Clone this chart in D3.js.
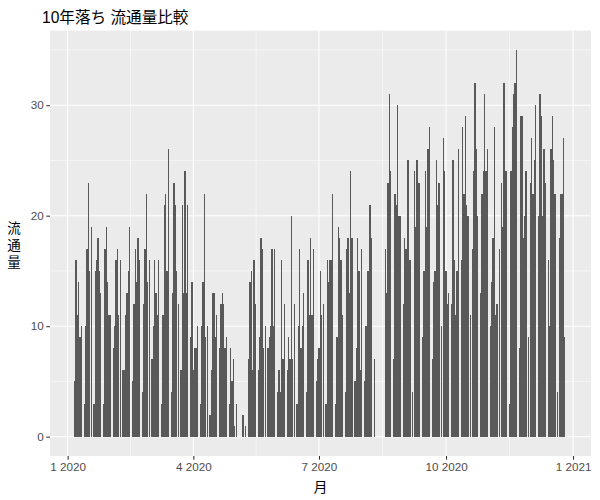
<!DOCTYPE html>
<html><head><meta charset="utf-8">
<script src="https://cdn.jsdelivr.net/npm/d3@7"></script>
<style>body{margin:0;background:#fff;} text{font-family:"Liberation Sans","Noto Sans CJK JP",sans-serif;}</style>
</head><body><div id="chart"></div>
<script>
const title = "10年落ち 流通量比較";
const xTitle = "月";
const yTitle = ["流", "通", "量"];
const startDate = "2020-01-01";
// daily values from 2020-01-01 (one per day)
const values = [
0,0,0,0,0,
5,16,11,14,9,10,0,
3,10,17,23,15,19,0,
3,15,16,18,15,13,0,
3,17,19,14,11,11,0,
8,10,16,17,11,16,0,
6,6,11,13,15,19,0,
5,12,17,14,18,16,0,
4,12,17,22,14,16,0,
7,10,16,13,11,16,0,
3,11,21,22,15,26,0,
4,13,23,21,15,12,0,
6,21,13,24,13,21,0,
9,14,6,8,8,10,0,
3,10,14,22,9,10,0,
2,6,13,13,9,11,0,
8,12,13,12,8,9,0,
3,8,5,7,1,3,0,
0,0,0,2,0,1,0,
7,14,15,6,16,12,0,
6,9,18,17,8,10,0,
8,9,10,17,10,17,0,
4,6,4,16,7,12,0,
6,9,7,20,7,12,0,
3,10,17,8,10,13,0,
4,16,11,18,11,17,0,
5,7,8,15,11,12,0,
3,16,14,16,16,22,0,
3,9,19,18,16,11,0,
4,17,18,13,24,18,0,
5,8,18,15,6,17,0,
5,10,15,15,21,18,0,
7,0,0,0,0,0,0,
0,17,13,23,31,24,0,
7,22,21,30,20,20,0,
12,18,17,25,25,16,0,
4,24,19,25,23,23,0,
9,15,24,19,26,28,0,
7,14,15,25,21,23,0,
10,27,24,15,12,13,0,
12,25,16,11,15,26,0,
16,28,22,29,21,20,0,
11,17,24,32,26,20,0,
13,22,24,31,24,26,0,
10,14,18,28,11,12,0,
17,23,19,32,24,24,0,
3,24,28,31,32,35,0,
8,29,29,18,20,24,0,
9,23,27,22,25,30,0,
20,31,29,20,26,23,0,
16,10,26,29,25,22,0,
4,18,22,22,27,9,0,
0,0,0,0
];
const xTickDates = ["2020-01-01","2020-04-01","2020-07-01","2020-10-01","2021-01-01"];
const yTicks = [0,10,20,30];

const W = 600, H = 500;
const parse = d3.utcParse("%Y-%m-%d");
const t0 = parse(startDate);
const data = values.map((v,i)=>({date: d3.utcDay.offset(t0,i), v}));
const DAY = 86400000;

const panel = {l:50, r:591, t:30.6, b:456};
const x = d3.scaleUtc()
  .domain([new Date(+t0 - 12.8*DAY), new Date(+t0 + 379*DAY)])
  .range([panel.l, panel.r]);
const y = d3.scaleLinear().domain([-1.75, 36.75]).range([panel.b, panel.t]);

const svg = d3.select("#chart").append("svg").attr("width",W).attr("height",H);
svg.append("rect").attr("width",W).attr("height",H).attr("fill","#fff");
svg.append("rect").attr("x",panel.l).attr("y",panel.t)
  .attr("width",panel.r-panel.l).attr("height",panel.b-panel.t).attr("fill","#EBEBEB");

const g = svg.append("g");
const majorX = xTickDates.map(parse);
const minorX = [];
for (let i=0;i<majorX.length-1;i++) minorX.push(new Date((+majorX[i] + +majorX[i+1])/2));
const minorY = [5,15,25,35];

g.selectAll(".mgx").data(minorX).join("line")
  .attr("x1",d=>x(d)).attr("x2",d=>x(d)).attr("y1",panel.t).attr("y2",panel.b)
  .attr("stroke","#fff").attr("stroke-width",0.53);
g.selectAll(".mgy").data(minorY).join("line")
  .attr("y1",d=>y(d)).attr("y2",d=>y(d)).attr("x1",panel.l).attr("x2",panel.r)
  .attr("stroke","#fff").attr("stroke-width",0.53);
g.selectAll(".Mgx").data(majorX).join("line")
  .attr("x1",d=>x(d)).attr("x2",d=>x(d)).attr("y1",panel.t).attr("y2",panel.b)
  .attr("stroke","#fff").attr("stroke-width",1.07);
g.selectAll(".Mgy").data(yTicks).join("line")
  .attr("y1",d=>y(d)).attr("y2",d=>y(d)).attr("x1",panel.l).attr("x2",panel.r)
  .attr("stroke","#fff").attr("stroke-width",1.07);

const bw = 0.9 * (x(new Date(+t0+DAY)) - x(t0));
g.selectAll(".bar").data(data.filter(d=>d.v>0)).join("rect")
  .attr("x",d=>x(d.date)-bw/2).attr("width",bw)
  .attr("y",d=>y(d.v)).attr("height",d=>y(0)-y(d.v))
  .attr("fill","#595959").attr("shape-rendering","crispEdges");

// axes
const xAxis = d3.axisBottom(x).tickValues(majorX).tickFormat(d=>`${d.getUTCMonth()+1} ${d.getUTCFullYear()}`).tickSize(3.7).tickPadding(2.5);
const xa = svg.append("g").attr("transform",`translate(0,${panel.b})`).call(xAxis);
const yAxis = d3.axisLeft(y).tickValues(yTicks).tickSize(3.7).tickPadding(2.5);
const ya = svg.append("g").attr("transform",`translate(${panel.l},0)`).call(yAxis);
[xa,ya].forEach(a=>{
  a.select(".domain").remove();
  a.selectAll(".tick line").attr("stroke","#333").attr("stroke-width",1.07);
  a.selectAll(".tick text").attr("fill","#4D4D4D").style("font-size","11.7px")
    .style("font-family",'"Liberation Sans","Noto Sans CJK JP",sans-serif');
});

svg.append("text").attr("x",42).attr("y",23).text(title)
  .attr("fill","#000").style("font-size","15.6px");
svg.append("text").attr("x",(panel.l+panel.r)/2).attr("y",492).attr("text-anchor","middle")
  .text(xTitle).style("font-size","14px").attr("fill","#000");
svg.selectAll(".yt").data(yTitle).join("text")
  .attr("x",14).attr("y",(d,i)=>233 + i*17).attr("text-anchor","middle")
  .text(d=>d).style("font-size","13.5px").attr("fill","#000");
</script></body></html>
